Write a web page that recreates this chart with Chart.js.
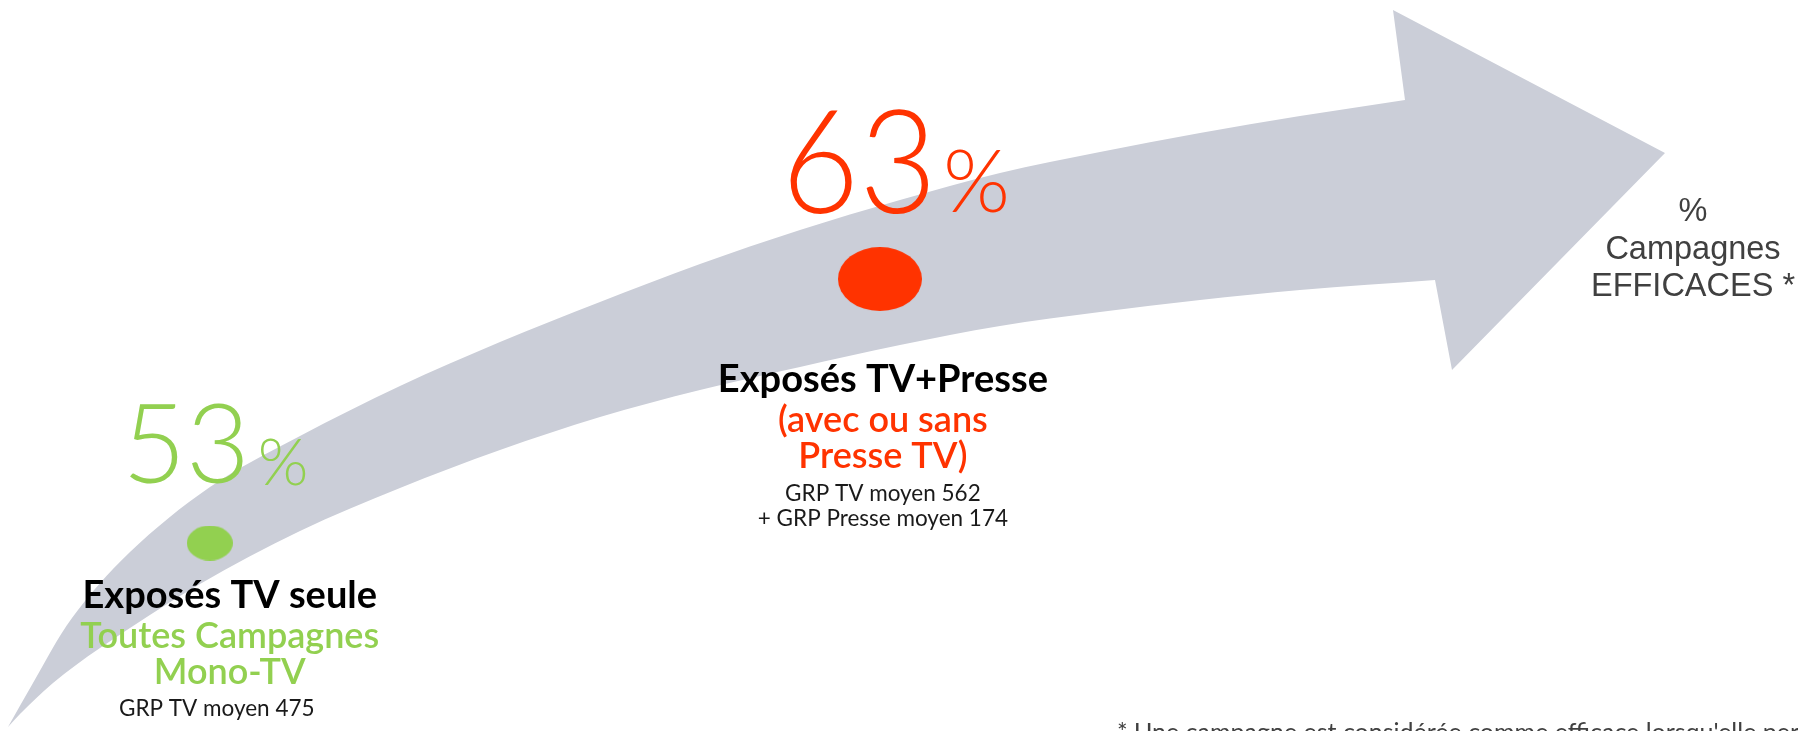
<!DOCTYPE html>
<html>
<head>
<meta charset="utf-8">
<script src="https://cdn.jsdelivr.net/npm/chart.js@4.4.1/dist/chart.umd.min.js"></script>
<style>
  html, body { margin: 0; padding: 0; background: #ffffff; overflow: hidden; }
  #wrap { width: 1798px; height: 731px; position: relative; }
</style>
</head>
<body>
<div id="wrap"><canvas id="c"></canvas></div>
<script>
// ---------- DATA ----------
const categories = ["Exposés TV seule", "Exposés TV+Presse"];
const efficacePct = [53, 63];
const subtitles = [["Toutes Campagnes", "Mono-TV"], ["(avec ou sans", "Presse TV)"]];
const grpNotes = [["GRP TV moyen 475"], ["GRP TV moyen 562", "+ GRP Presse moyen 174"]];
const axisTitle = ["%", "Campagnes", "EFFICACES *"];
const footnote = "* Une campagne est considérée comme efficace lorsqu'elle permet";

// ---------- STYLE ----------
const pointColors = ["#92d050", "#ff3300"];
const dotSize = [[46, 35], [84, 64]];
const labelStyle = [
  { numSize: 110, numScaleX: 1.0, pctSize: 65, numRight: 40, pctLeft: 48, numDy: -60, pctDy: -58,
    textDx: 20, titleDy: 65, subDy: [105, 141], noteDy: [173], noteDx: 7 },
  { numSize: 144, numScaleX: 0.93, pctSize: 86, numRight: 57, pctLeft: 63, numDy: -66, pctDy: -67,
    textDx: 3, titleDy: 113, subDy: [153, 189], noteDy: [222, 247], noteDx: 3 }
];
const axisTitleStyle = { x: 1693, baselines: [221, 259, 296], font: "32.5px 'Liberation Sans', Arial, sans-serif", color: "#404040" };
const footStyle = { x: 1117, baseline: 741, font: "25px Lato, sans-serif", color: "#404040" };
const arrowColor = "#cbced8";
const FONT = "Lato, 'Noto Sans', sans-serif";

function ellipseImage(w, h, color) {
  const cv = document.createElement("canvas");
  cv.width = w; cv.height = h;
  const g = cv.getContext("2d");
  g.fillStyle = color;
  g.beginPath();
  g.ellipse(w / 2, h / 2, w / 2, h / 2, 0, 0, Math.PI * 2);
  g.fill();
  return cv;
}
const pointImages = pointColors.map((c, i) => ellipseImage(dotSize[i][0], dotSize[i][1], c));

// decorative curved arrow (background shape, not data)
const arrowUpper = [[8,727],[33,683],[72,618],[130,552],[210,487],[300,436],[400,386],[500,342],[600,302],[700,264],[800,230],[900,200],[1000,173],[1100,152],[1200,133],[1300,116],[1405,100]];
const arrowHead = [[1393,10],[1665,153],[1452,370],[1435,280]];
const arrowLower = [[1435,280],[1300,290],[1200,300],[1100,312],[1000,326],[900,345],[800,367],[700,390],[600,417],[500,450],[400,488],[300,531],[200,584],[100,648],[53,683],[20,714],[8,727]];

function unit(dx, dy) { const l = Math.hypot(dx, dy) || 1; return [dx / l, dy / l]; }
function smoothThrough(ctx, pts, moveFirst) {
  if (moveFirst) ctx.moveTo(pts[0][0], pts[0][1]);
  else ctx.lineTo(pts[0][0], pts[0][1]);
  const n = pts.length;
  const tan = pts.map((p, i) => {
    const a = pts[Math.max(0, i - 1)], b = pts[Math.min(n - 1, i + 1)];
    return unit(b[0] - a[0], b[1] - a[1]);
  });
  for (let i = 0; i < n - 1; i++) {
    const p1 = pts[i], p2 = pts[i + 1];
    const d = Math.hypot(p2[0] - p1[0], p2[1] - p1[1]) / 3;
    ctx.bezierCurveTo(p1[0] + tan[i][0] * d, p1[1] + tan[i][1] * d,
                      p2[0] - tan[i + 1][0] * d, p2[1] - tan[i + 1][1] * d,
                      p2[0], p2[1]);
  }
}

const arrowPlugin = {
  id: "arrowBg",
  beforeDatasetsDraw(chart) {
    const ctx = chart.ctx;
    ctx.save();
    ctx.fillStyle = arrowColor;
    ctx.beginPath();
    smoothThrough(ctx, arrowUpper, true);
    arrowHead.forEach(p => ctx.lineTo(p[0], p[1]));
    smoothThrough(ctx, arrowLower, false);
    ctx.closePath();
    ctx.fill();
    ctx.restore();
  }
};

function txt(ctx, s, x, y, font, color, align, sx) {
  ctx.save();
  ctx.font = font; ctx.fillStyle = color; ctx.textAlign = align || "center";
  ctx.textBaseline = "alphabetic";
  if (sx && sx !== 1) {
    ctx.translate(x, y); ctx.scale(sx, 1); ctx.fillText(s, 0, 0);
  } else {
    ctx.fillText(s, x, y);
  }
  ctx.restore();
}

const labelPlugin = {
  id: "labels",
  afterDatasetsDraw(chart) {
    const ctx = chart.ctx;
    const meta = chart.getDatasetMeta(0);
    ctx.save();
    meta.data.forEach((pt, i) => {
      const st = labelStyle[i], x = pt.x, y = pt.y, col = pointColors[i];
      txt(ctx, String(efficacePct[i]), x + st.numRight, y + st.numDy, "300 " + st.numSize + "px " + FONT, col, "right", st.numScaleX);
      txt(ctx, "%", x + st.pctLeft, y + st.pctDy, "300 " + st.pctSize + "px " + FONT, col, "left");
      txt(ctx, categories[i], x + st.textDx, y + st.titleDy, "bold 38px " + FONT, "#000000");
      subtitles[i].forEach((s, k) => txt(ctx, s, x + st.textDx, y + st.subDy[k], "600 36px " + FONT, col));
      grpNotes[i].forEach((s, k) => txt(ctx, s, x + st.noteDx, y + st.noteDy[k], "22.5px " + FONT, "#1a1a1a"));
    });
    axisTitle.forEach((s, k) => txt(ctx, s, axisTitleStyle.x, axisTitleStyle.baselines[k], axisTitleStyle.font, axisTitleStyle.color));
    txt(ctx, footnote, footStyle.x, footStyle.baseline, footStyle.font, footStyle.color, "left");
    ctx.restore();
  }
};

new Chart(document.getElementById("c"), {
  type: "scatter",
  data: {
    datasets: [{
      label: "% Campagnes efficaces",
      data: categories.map((c, i) => ({ x: i, y: efficacePct[i] })),
      pointStyle: pointImages,
      pointRadius: 30,
      backgroundColor: pointColors,
      borderWidth: 0
    }]
  },
  options: {
    responsive: true,
    maintainAspectRatio: false,
    animation: false,
    layout: { padding: 0, autoPadding: false },
    scales: {
      x: { type: "linear", min: -0.313, max: 2.370, display: false },
      y: { type: "linear", min: 45.88, max: 73.57, display: false }
    },
    plugins: { legend: { display: false }, tooltip: { enabled: false } },
    events: []
  },
  plugins: [arrowPlugin, labelPlugin]
});
</script>
</body>
</html>
